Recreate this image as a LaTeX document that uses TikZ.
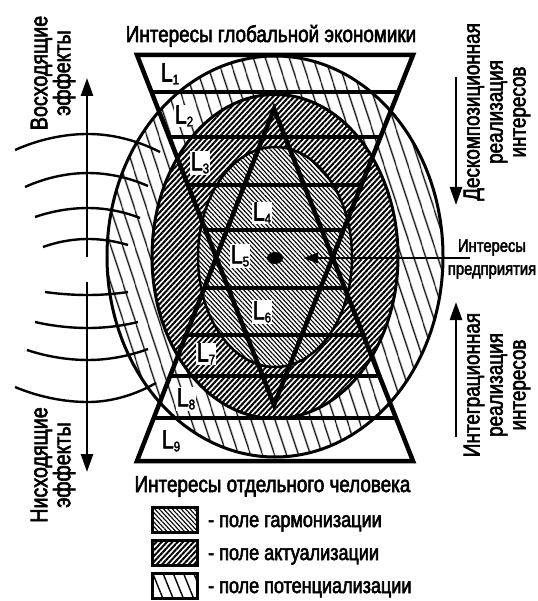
\documentclass[tikz,border=0pt]{standalone}
\usepackage{fontspec}
\setmainfont[FakeStretch=0.82,FakeBold=2.5]{Liberation Sans}
\usetikzlibrary{patterns.meta,arrows.meta,shapes.geometric}
\tikzset{
  thickline/.style={line width=4.5pt, line join=miter},
  ell/.style={line width=3pt},
  wave/.style={line width=2.4pt},
  arr/.style={line width=2.6pt,-{Triangle[length=18pt,width=12pt]}},
  arrsmall/.style={line width=2.6pt,-{Triangle[length=15pt,width=10pt]}},
  lab/.style={fill=white,inner sep=1pt,font=\fontsize{26}{26}\selectfont},
  big/.style={font=\fontsize{23}{23}\selectfont, inner sep=0pt},
  legtext/.style={font=\fontsize{22}{22}\selectfont, inner sep=0pt},
  side/.style={rotate=90,align=center,inner sep=0pt,font=\fontsize{23}{23}\selectfont},
  leftside/.style={rotate=90,align=center,inner sep=0pt,font=\fontsize{24}{23}\selectfont},
  leg/.style={line width=3pt},
  potpat/.style={pattern={Lines[angle=-72,distance=10.5pt,line width=1.4pt]}},
  actpat/.style={pattern={Lines[angle=47,distance=3.9pt,line width=2pt]}},
  harpat/.style={pattern={Lines[angle=-47,distance=3.2pt,line width=1.1pt]}},
}
\newcommand\lsub[1]{\raisebox{-3pt}{\fontsize{14}{14}\selectfont #1}}
\begin{document}
\begin{tikzpicture}[x=1pt,y=-1pt]
\useasboundingbox (0,0) rectangle (537,601);
% fields
\fill[potpat] (275,256.5) ellipse [x radius=168,y radius=200.5];
\fill[white] (275,256.5) ellipse [x radius=123,y radius=162];
\fill[actpat] (275,256.5) ellipse [x radius=123,y radius=162];
\fill[white] (275,257) ellipse [x radius=77,y radius=110];
\fill[harpat] (275,257) ellipse [x radius=77,y radius=110];
\draw[ell] (275,256.5) ellipse [x radius=168,y radius=200.5];
\draw[ell] (275,256.5) ellipse [x radius=123,y radius=162];
\draw[line width=2.5pt] (275,257) ellipse [x radius=77,y radius=110];
% star
\draw[thickline] (137,55) -- (413,55) -- (274,405) -- cycle;
\draw[thickline] (137,461) -- (413,461) -- (274,109) -- cycle;
\foreach \y/\a/\b in {92/151.5/398.5, 137/169.1/380.9, 185/187.9/362.1, 230/205.5/344.5, 288/204.3/345.7, 335/186.0/364.0, 376/170.1/379.9, 418/153.7/396.3}
  \draw[thickline] (\a,\y) -- (\b,\y);
% centre dot
\node[ellipse, fill=black, minimum width=16pt, minimum height=12pt, inner sep=0pt] (dot) at (275,258) {};
% level labels
\node[lab] (l1) at (170,74) {L\lsub{1}};
\node[lab] (l2) at (184,116) {L\lsub{2}};
\node[lab] (l3) at (200,163) {L\lsub{3}};
\node[lab] (l4) at (262,213) {L\lsub{4}};
\node[lab] (l5) at (240,256) {L\lsub{5}};
\node[lab] (l6) at (262,312) {L\lsub{6}};
\node[lab] (l7) at (206,354) {L\lsub{7}};
\node[lab] (l8) at (186,399) {L\lsub{8}};
\node[lab] (l9) at (171,441) {L\lsub{9}};
% enterprise arrow
\node[align=center, inner sep=0pt, font=\fontsize{18}{23}\selectfont] (pred) at (492,259) {Интересы\\предприятия};
\coordinate (ps) at (470,258);
\coordinate (pt) at (303,258);
\draw[arrsmall] (ps) -- (pt);
% titles
\node[big, anchor=base] (top) at (271,42) {Интересы глобальной экономики};
\node[big, anchor=base] (bot) at (272.5,492) {Интересы отдельного человека};
% left waves
\draw[wave] (15,150) parabola bend (88,134) (160,152);
\draw[wave] (25,187) parabola bend (88,173) (148,186);
\draw[wave] (35,217) parabola bend (88,208) (140,218);
\draw[wave] (43,247) parabola bend (88,239) (128,245);
\draw[wave] (45,292) parabola bend (88,295) (128,292);
\draw[wave] (35,322) parabola bend (88,328) (138,322);
\draw[wave] (27,350) parabola bend (88,360) (148,349);
\draw[wave] (15,387) parabola bend (88,402) (156,383);
% left arrows
\coordinate (lu0) at (87,257); \coordinate (lu1) at (87,78);
\coordinate (ld0) at (87,282); \coordinate (ld1) at (87,472);
\draw[arr] (lu0) -- (lu1);
\draw[arr] (ld0) -- (ld1);
\node[leftside] (asc) at (53,73) {Восходящие\\эффекты};
\node[leftside] (desc) at (53,465) {Нисходящие\\эффекты};
% right arrows
\coordinate (ru0) at (456,77); \coordinate (ru1) at (456,205);
\coordinate (rd0) at (456,437); \coordinate (rd1) at (456,302);
\draw[arr] (ru0) -- (ru1);
\draw[arr] (rd0) -- (rd1);
\node[side] (dec) at (497,112) {Дескомпозиционная\\реализация\\интересов};
\node[side] (integ) at (497,385) {Интеграционная\\реализация\\интересов};
% legend
\draw[leg,harpat] (152,507) rectangle (197,532);
\draw[leg,actpat] (152,540) rectangle (197,565);
\draw[leg,pattern={Lines[angle=-68,distance=9.5pt,line width=1.4pt]}] (152,573) rectangle (197,598);
\node[legtext, anchor=base west] (g1) at (208,527) {- поле гармонизации};
\node[legtext, anchor=base west] (g2) at (208,560) {- поле актуализации};
\node[legtext, anchor=base west] (g3) at (208,593) {- поле потенциализации};
\end{tikzpicture}
\end{document}
